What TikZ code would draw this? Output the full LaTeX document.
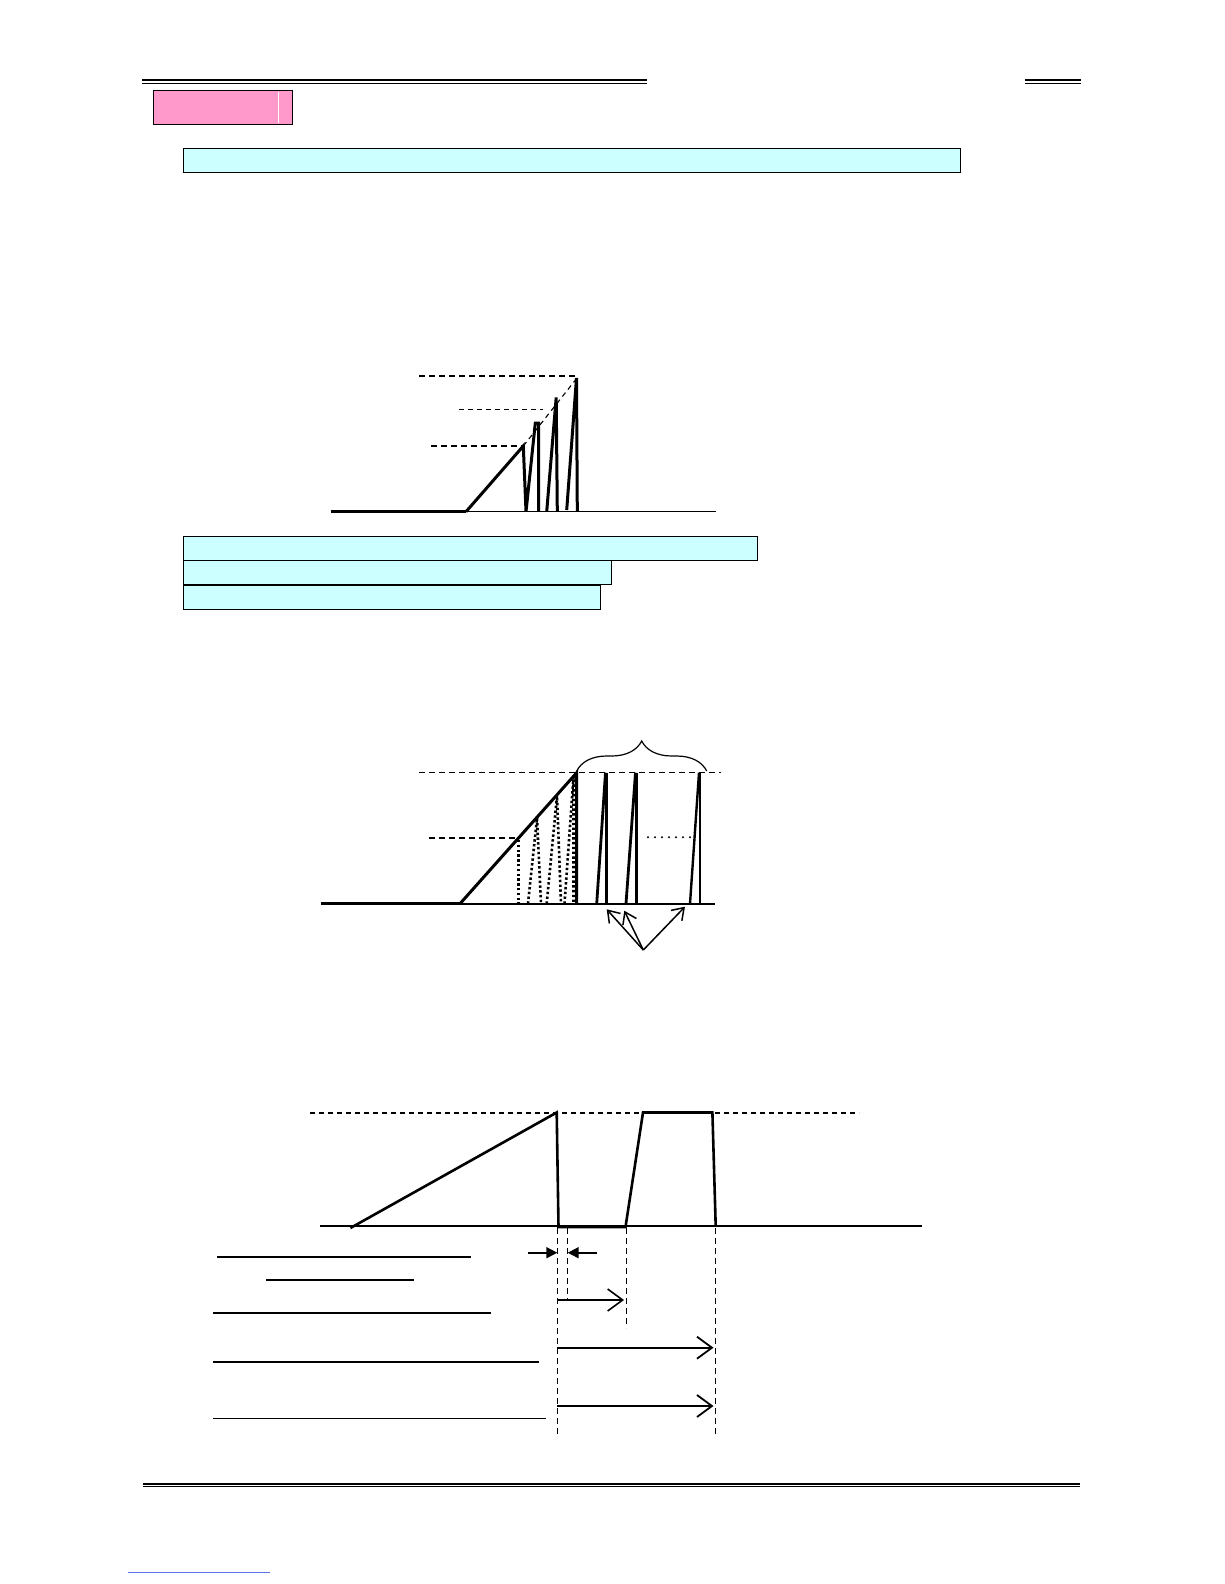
\documentclass[tikz,border=0pt]{standalone}
\usetikzlibrary{arrows.meta,decorations.pathreplacing}
\definecolor{pinkfill}{RGB}{255,153,204}
\definecolor{cyanfill}{RGB}{204,255,255}
\definecolor{linkblue}{RGB}{90,110,230}
\begin{document}
\begin{tikzpicture}[x=1pt,y=-1pt,
  rule/.style={line width=1.6pt},
  rulethin/.style={line width=0.8pt},
  bar/.style={draw=black, line width=1pt, fill=cyanfill},
  wave/.style={line width=3pt, line join=miter, line cap=butt},
  base/.style={line width=1.4pt},
  dashthick/.style={line width=1.8pt, dash pattern=on 6pt off 4pt},
  dashthin/.style={line width=1.1pt, dash pattern=on 5pt off 4pt},
  dashmid/.style={line width=1.4pt, dash pattern=on 6pt off 4pt},
  dotwave/.style={line width=2.6pt, dash pattern=on 2.4pt off 2.4pt},
  vguide/.style={line width=1pt, dash pattern=on 6pt off 4pt},
  openarrow/.style={line width=1.5pt, -{Straight Barb[length=11pt,width=15pt,line width=1.5pt]}},
  bigarrow/.style={line width=2pt, -{Straight Barb[length=15pt,width=22pt,line width=1.8pt]}},
  filledarrow/.style={line width=1.6pt, -{Triangle[length=11pt,width=11pt]}},
  uline/.style={line width=2pt}]
\useasboundingbox (0,0) rectangle (1224,1584);
\fill[white] (0,0) rectangle (1224,1584);

% ---------- header ----------
\draw[rule] (142,80.3) -- (647,80.3);
\draw[rulethin] (142,83) -- (647,83);
\draw[rule] (1025,80.3) -- (1081,80.3);
\draw[rulethin] (1025,83) -- (1081,83);
\draw[fill=pinkfill, line width=1pt] (153.5,91) rectangle (292,124.3);
\draw[white, line width=0.8pt] (278,91.8) -- (278,123.5);
\draw[bar] (183.5,148.3) rectangle (960,172);

% ---------- diagram 1 ----------
\coordinate (d1a) at (330.7,511.7);
\coordinate (d1b) at (466,511.7);
\coordinate (d1c) at (716,511.7);
\draw[wave] (d1a) -- (d1b);
\draw[base] (d1b) -- (d1c);
\draw[dashthick] (419,375.7) -- (577,375.7);
\draw[dashthin] (459,409.3) -- (543,409.3);
\draw[dashthick] (431,446) -- (523.3,446);
\draw[dashthin] (523.3,446) -- (577,378);
\draw[wave] (d1b) -- (523.3,446) -- (526,511.7) -- (535.3,423) -- (538.7,423) -- (538.7,511.7);
\draw[wave] (546.7,511.7) -- (556.2,397.5) -- (557.3,511.7);
\draw[wave] (566.7,510) -- (576.5,378) -- (577.3,511.7);

\draw[bar] (183.5,536) rectangle (757.5,560.7);
\draw[bar] (183.5,560.7) rectangle (611.2,584.3);
\draw[bar] (183.5,585.3) rectangle (600.5,609.3);

% ---------- diagram 2 ----------
\coordinate (d2a) at (320.7,903.7);
\coordinate (d2b) at (460,903.7);
\coordinate (d2c) at (715,903.7);
\coordinate (d2top) at (576.7,772.7);
\draw[wave] (d2a) -- (d2b);
\draw[line width=2.4pt] (d2b) -- (d2c);
\draw[dashmid] (419,772.7) -- (720.7,772.7);
\draw[dashthick] (429,837.7) -- (516.7,837.7);
\draw[wave] (d2b) -- (d2top) -- (576.7,903.7);
% dotted virtual spikes
\draw[dotwave] (518.7,840) -- (518.7,903.7);
\draw[dotwave] (528,903.7) -- (537,818) -- (541,903.7);
\draw[dotwave] (546.7,903.7) -- (557,796) -- (561,903.7);
\draw[dotwave] (564.5,903.7) -- (573.5,777) -- (573.5,903.7);
% solid spikes
\draw[line width=2.8pt] (596.7,903.7) -- (605.5,772.7);
\draw[wave] (606.5,772.7) -- (606.5,903.7);
\draw[line width=2.8pt] (626,903.7) -- (635.5,772.7);
\draw[wave] (636.5,772.7) -- (636.5,903.7);
\draw[line width=2.4pt] (690,903.7) -- (699,772.7);
\draw[line width=2pt] (700,772.7) -- (700,903.7);
\foreach \dx in {648,655,...,690} \fill (\dx,837.3) circle (1.1pt);
% brace
\draw[line width=1.2pt, decorate, decoration={brace, amplitude=30pt}] (576.7,771) -- (706.7,771);
% arrows
\coordinate (d2src) at (643.3,950);
\draw[openarrow] (d2src) -- (606.7,909.3);
\draw[openarrow] (d2src) -- (624.3,910.7);
\draw[openarrow] (d2src) -- (685,906.7);

% ---------- diagram 3 ----------
\coordinate (w0) at (350.4,1228);
\coordinate (w1) at (556.7,1112.5);
\coordinate (w2) at (558.5,1227);
\coordinate (w3) at (625.5,1227);
\coordinate (w4) at (643,1112.5);
\coordinate (w5) at (712.4,1112.5);
\coordinate (w6) at (715.7,1226);
\draw[dashthin] (310,1113) -- (859,1113);
\draw[base] (320,1226) -- (922,1226);
\draw[line width=2.6pt, line join=miter] (w0) -- (w1) -- (w2) -- (w3) -- (w4) -- (w5) -- (w6);
% guides
\draw[vguide] (557.3,1228) -- (557.3,1437);
\draw[vguide] (567.7,1228) -- (567.7,1300);
\draw[vguide] (626,1228) -- (626,1328);
\draw[vguide] (715.7,1228) -- (715.7,1437);
% arrows
\coordinate (s1) at (528.3,1252.7);
\coordinate (s2) at (597,1252.7);
\draw[filledarrow] (s1) -- (557.3,1252.7);
\draw[filledarrow] (s2) -- (567.7,1252.7);
\draw[line width=1.5pt, -{Straight Barb[length=15pt,width=22pt,line width=1.6pt]}] (557.3,1300) -- (624,1300);
\draw[bigarrow] (557.3,1347.7) -- (713.5,1347.7);
\draw[bigarrow] (557.3,1406) -- (713.5,1406);
% label underlines
\draw[uline] (217,1256.7) -- (470.7,1256.7);
\draw[uline] (266,1280) -- (414,1280);
\draw[uline] (213,1312.7) -- (490.7,1312.7);
\draw[uline] (213,1362) -- (539,1362);
\draw[line width=1.3pt] (213,1418.3) -- (545.7,1418.3);

% ---------- footer ----------
\draw[rule] (142.7,1484) -- (1080.2,1484);
\draw[rulethin] (142.7,1486.7) -- (1080.2,1486.7);
\draw[linkblue, line width=0.8pt] (128,1572) -- (269.5,1572);
\end{tikzpicture}
\end{document}
